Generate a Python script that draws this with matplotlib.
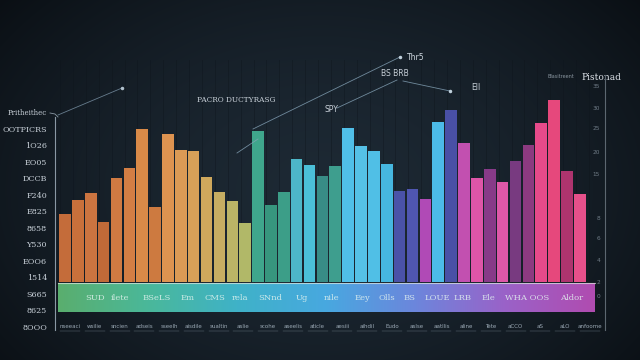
import numpy as np
import matplotlib
matplotlib.use("Agg")
import matplotlib.pyplot as plt
from matplotlib.colors import LinearSegmentedColormap

# ---------------- data ----------------
values = [68, 82, 89, 60, 104, 114, 153, 75, 148, 132, 131, 105, 90, 81, 59,
          151, 77, 90, 123, 117, 106, 116,
          154, 136, 131, 118, 91, 93, 83,
          160, 172, 139, 104, 113, 100, 121, 137, 159, 182, 111, 88]

bar_colors = ["#c46c3a", "#c8703b", "#cb7440", "#c06a38", "#d07a42", "#d37e44",
              "#d98a48", "#cd7a40", "#dd9350", "#db9a55", "#d8a058", "#cfa85c",
              "#c6ad62", "#bbb466", "#b1b868",
              "#3fa68c", "#37967e", "#3c9e88", "#4db6c8", "#4bbfd8", "#388c86", "#3e9e8e",
              "#50bfe8", "#55c1e6", "#50bfe6", "#46b7e0", "#4a52a8", "#4f56b0", "#b04ab6",
              "#4cbbe8", "#4950a6", "#c250b0", "#de55a8", "#873a88", "#de58a8",
              "#783a80", "#8c3a80", "#e64a8a", "#e6487c", "#ae346e", "#e6508a"]

left_labels = ["Pritheithec", "OOTPICRS", "1O26", "EO05", "DCCB", "F240", "E825",
               "8658", "Y530", "EOO6", "1514", "S665", "8625", "8OOO"]

band_labels = ["SUD", "ilete", "BSeLS", "Em", "CMS", "rela", "SNnd", "Ug", "nile",
               "Eey", "Olls", "BS", "LOUE", "LRB", "Ele", "WHA OOS", "Aldor"]

bottom_labels = ["nseeaci", "wsilie", "sncien", "adseis", "sseelh", "aisdile",
                 "sualtin", "aslie", "scohe", "aseelis", "aticle", "aesiii",
                 "aihdil", "Eudo", "aslse", "aatllis", "aline", "Tete", "aCCO",
                 "aS", "aLO", "anfoome"]

right_ticks = ["35", "30", "25", "20", "15", "8", "6", "4", "2", "0"]

W, H = 640, 360
fig = plt.figure(figsize=(6.4, 3.6), dpi=100)

# ---------------- background (vignette) ----------------
bg = fig.add_axes([0, 0, 1, 1])
yy, xx = np.mgrid[0:H, 0:W]
d = np.sqrt(((xx - 320) / 420.0) ** 2 + ((yy - 190) / 300.0) ** 2)
d = np.clip(d, 0, 1)
c_center = np.array([0x1d, 0x29, 0x34]) / 255.0
c_edge = np.array([0x0a, 0x0f, 0x14]) / 255.0
img = c_center[None, None, :] * (1 - d[..., None] ** 1.6) + c_edge[None, None, :] * (d[..., None] ** 1.6)
bg.imshow(img, extent=[0, W, H, 0], aspect="auto", zorder=0)
bg.set_xlim(0, W)
bg.set_ylim(H, 0)
bg.axis("off")

# faint vertical stripes
for xs in np.arange(60, 600, 12.9):
    bg.plot([xs, xs], [60, 282], color="#0e151c", lw=0.6, alpha=0.45, zorder=1)

# ---------------- bars ----------------
ax = fig.add_axes([58 / W, (H - 282) / H, (595 - 58) / W, (282 - 60) / H])
ax.patch.set_alpha(0)
x = np.arange(len(values))
ax.bar(x, values, width=0.9, color=bar_colors, edgecolor="none", zorder=3)
ax.set_xlim(-0.544, 41.18)
ax.set_ylim(0, 222)
ax.axis("off")

# ---------------- overlay decorations ----------------
ov = fig.add_axes([0, 0, 1, 1])
ov.patch.set_alpha(0)
ov.set_xlim(0, W)
ov.set_ylim(H, 0)
ov.axis("off")

# gradient band
band_cmap = LinearSegmentedColormap.from_list(
    "band", ["#5aae6e", "#4ab89a", "#3fb2c8", "#48a8e0", "#6c86dc", "#9a62c8", "#b04cb0"])
grad = np.linspace(0, 1, 256)[None, :]
ov.imshow(grad, cmap=band_cmap, extent=[58, 595, 312, 283], aspect="auto", zorder=2)
ov.plot([58, 595], [283, 283], color="#dfe8e0", lw=0.8, alpha=0.7, zorder=4)
band_x = [95, 120, 157, 188, 215, 240, 270, 302, 332, 362, 387, 410, 437, 463, 488, 527, 572]
for xs, lab in zip(band_x, band_labels):
    ov.text(xs, 297.5, lab, ha="center", va="center", fontsize=6.0,
            color="#e4f4f0", alpha=0.85, zorder=5, family="DejaVu Serif")

# bottom tiny labels
for xs, lab in zip(np.linspace(70, 590, len(bottom_labels)), bottom_labels):
    ov.text(xs, 327, lab, ha="center", va="center", fontsize=4,
            color="#9aa8b4", zorder=5)
    ov.plot([xs - 10, xs + 10], [331, 331], color="#6a7884", lw=0.3, zorder=5)

# left axis
ov.plot([55, 55], [117, 330], color="#8a98a4", lw=0.8, zorder=4)
for yv, lab in zip(np.linspace(113, 328, len(left_labels)), left_labels):
    ov.text(47, yv, lab, ha="right", va="center", fontsize=5.8 if yv > 115 else 5,
            color="#c8d0d8", zorder=5, family="DejaVu Serif")
ov.plot([50, 55, 58], [113, 114, 117], color="#8a98a4", lw=0.6)
ov.plot([58, 122], [115, 88], color="#7c95a8", lw=0.6, alpha=0.8)
ov.plot([122], [88], marker="o", ms=1.5, color="#b0c0cc")

# right axis
ov.plot([605, 605], [75, 330], color="#5c6770", lw=0.8, zorder=4)
for yv, lab in zip([86, 108, 129, 153, 175, 218, 238, 260, 282, 297], right_ticks):
    ov.text(600, yv, lab, ha="right", va="center", fontsize=4.2,
            color="#6f7b86", zorder=5)
ov.text(601, 77, "Pistonad", ha="center", va="center", fontsize=6.5,
        color="#dfe4ea", family="DejaVu Serif")
ov.text(561, 77, "Blasitreent", ha="center", va="center", fontsize=3.5,
        color="#8a96a0")

# annotation lines / labels
lc = "#86a4b8"
ov.plot([253, 400], [129, 57], color=lc, lw=0.6, alpha=0.8)
ov.plot([400], [57], marker="o", ms=1.5, color="#c0d0dc")
ov.text(416, 57, "Thr5", ha="center", va="center", fontsize=5.5, color="#d0d8e0")
ov.plot([237, 258], [153, 139], color=lc, lw=0.6, alpha=0.8)
ov.plot([337, 397], [108, 80], color=lc, lw=0.6, alpha=0.8)
ov.text(331, 109, "SPY", ha="center", va="center", fontsize=5.5, color="#c8d0d8")
ov.text(395, 73, "BS BRB", ha="center", va="center", fontsize=5.5, color="#c8d0d8")
ov.plot([403, 450], [81, 91], color=lc, lw=0.6, alpha=0.8)
ov.plot([450], [91], marker="o", ms=1.5, color="#c0d0dc")
ov.text(476, 87, "Ell", ha="center", va="center", fontsize=5.5, color="#c8d0d8")
ov.text(236, 99.5, "PACRO DUCTYRASG", ha="center", va="center", fontsize=5.3,
        color="#c8d0d8", family="DejaVu Serif")

fig.savefig("out.png", dpi=100)
